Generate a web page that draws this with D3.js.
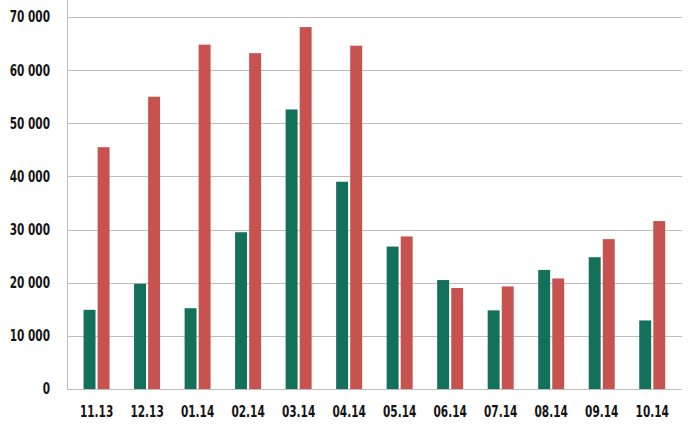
<!DOCTYPE html>
<html>
<head>
<meta charset="utf-8">
<script src="https://cdn.jsdelivr.net/npm/d3@7"></script>
<style>
  html, body { margin: 0; padding: 0; background: #fff; }
  svg { display: block; }
  text { font-family: "DejaVu Sans Condensed", "DejaVu Sans", sans-serif; font-weight: bold; fill: #141414; }
</style>
</head>
<body>
<svg id="chart" width="690" height="430"></svg>
<script>
const categories = ["11.13","12.13","01.14","02.14","03.14","04.14","05.14","06.14","07.14","08.14","09.14","10.14"];
const seriesNames = ["green","red"];
const greenValues = [14900, 19800, 15200, 29500, 52600, 39000, 26800, 20500, 14800, 22400, 24800, 12900];
const redValues   = [45500, 55000, 64800, 63200, 68100, 64600, 28700, 19000, 19300, 20800, 28200, 31600];
const yTicks = [0, 10000, 20000, 30000, 40000, 50000, 60000, 70000];

(function () {
const svg = d3.select("#chart");
const mLeft = 67, mRight = 682, mBottom = 389, mTop = 0;
const squeeze = 0.78;

const y = d3.scaleLinear().domain([0, 70000]).range([mBottom, 17]);
const x0 = d3.scaleBand().domain(categories).range([71.3, 677.5]).padding(0);
const groupW = 26;
const x1 = d3.scaleBand().domain(seriesNames)
  .range([x0.bandwidth()/2 - groupW/2, x0.bandwidth()/2 + groupW/2])
  .paddingInner(0.15);
const color = d3.scaleOrdinal().domain(seriesNames).range(["#13705a", "#c75250"]);

function condense(sel) {
  sel.each(function () {
    const len = this.getComputedTextLength();
    d3.select(this).attr("textLength", len * squeeze).attr("lengthAdjust", "spacingAndGlyphs");
  });
}

// gridlines
svg.append("g").selectAll("line").data(yTicks).join("line")
  .attr("x1", mLeft).attr("x2", mRight)
  .attr("y1", d => Math.round(y(d)) + 0.5).attr("y2", d => Math.round(y(d)) + 0.5)
  .attr("stroke", "#bdbdbd").attr("stroke-width", 1);

// y axis vertical line
svg.append("line")
  .attr("x1", mLeft + 0.5).attr("x2", mLeft + 0.5)
  .attr("y1", mTop).attr("y2", Math.round(y(0)) + 0.5)
  .attr("stroke", "#bdbdbd").attr("stroke-width", 1);

// y labels
const fmt = v => d3.format(",")(v).replace(/,/g, "\u00a0");
svg.append("g").selectAll("text").data(yTicks).join("text")
  .attr("x", 50).attr("y", d => y(d))
  .attr("dy", "0.36em")
  .attr("text-anchor", "end")
  .attr("font-size", 15)
  .text(d => fmt(d))
  .call(condense);

// bars
const data = categories.map((c, i) => ({ cat: c, vals: [
  { key: "green", v: greenValues[i] },
  { key: "red", v: redValues[i] }
]}));

const groups = svg.append("g").selectAll("g").data(data).join("g")
  .attr("transform", d => `translate(${x0(d.cat)},0)`);
groups.selectAll("rect").data(d => d.vals).join("rect")
  .attr("x", d => x1(d.key))
  .attr("width", x1.bandwidth())
  .attr("y", d => y(d.v))
  .attr("height", d => y(0) - y(d.v))
  .attr("fill", d => color(d.key));

// x labels
svg.append("g").selectAll("text").data(categories).join("text")
  .attr("x", d => x0(d) + x0.bandwidth()/2)
  .attr("y", 416.5)
  .attr("text-anchor", "middle")
  .attr("font-size", 15)
  .text(d => d)
  .call(condense);
})();
</script>
</body>
</html>
